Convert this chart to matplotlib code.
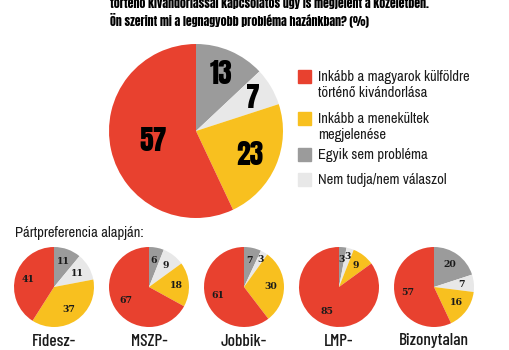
import matplotlib.pyplot as plt
import numpy as np

# Válaszok sorrendje (12 órától az óramutató járásával): egyik sem, nem tudja, menekültek, kivándorlás
answers = ['Egyik sem probléma', 'Nem tudja/nem válaszol',
           'Inkább a menekültek\nmegjelenése',
           'Inkább a magyarok külföldre\ntörténő kivándorlása']
colors = ['#9b9b9b', '#e8e8e8', '#f8c01f', '#e8412f']

total_values = [13, 7, 23, 57]

parties = ['Fidesz-', 'MSZP-', 'Jobbik-', 'LMP-', 'Bizonytalan']
party_values = [
    [11, 11, 37, 41],
    [6, 9, 18, 67],
    [7, 3, 30, 61],
    [3, 3, 9, 85],
    [20, 7, 16, 57],
]

HEAVY = ['Anton', 'DejaVu Sans']
NARROW = ['Archivo Narrow', 'DejaVu Sans']
BOLDNARROW = ['Barlow Condensed', 'DejaVu Sans']
W, H = 510, 350

fig = plt.figure(figsize=(W / 100, H / 100), dpi=100)
fig.patch.set_facecolor('white')


def px_axes(cx, cy, r):
    # tengely képpontos középponttal és sugárral
    return fig.add_axes([(cx - r) / W, (H - cy - r) / H, 2 * r / W, 2 * r / H])


def draw_pie(ax, values, dist, shrink=0.0, **txt):
    wedges, _ = ax.pie(values, colors=colors, startangle=90, counterclock=False,
                       wedgeprops=dict(linewidth=0))
    for w, v in zip(wedges, values):
        ang = np.deg2rad((w.theta1 + w.theta2) / 2)
        # nagy szeletnél beljebb, egymás melletti keskenyeknél kijjebb
        d = dist - shrink * v
        if v < 5 and w is not wedges[0]:
            d += 0.12
        ax.text(d * np.cos(ang), d * np.sin(ang), str(v),
                ha='center', va='center', **txt)
    ax.set_xlim(-1, 1)
    ax.set_ylim(-1, 1)
    ax.set_aspect('equal')
    ax.axis('off')


# cím (a felső sor félig kilóg)
fig.text(110 / W, 1 - 2 / H, 'történő kivándorlással kapcsolatos ügy is megjelent a közéletben.',
         family=HEAVY, fontsize=8.6, va='center', ha='left')
fig.text(110 / W, 1 - 20 / H, 'Ön szerint mi a legnagyobb probléma hazánkban? (%)',
         family=HEAVY, fontsize=8.6, va='center', ha='left')

# fő kördiagram
ax = px_axes(196, 131, 87)
draw_pie(ax, total_values, 0.79, shrink=0.005, family=HEAVY, fontsize=20)

# jelmagyarázat
legend_rows = [(3, 77), (2, 119), (0, 155), (1, 180)]
for idx, y in legend_rows:
    fig.patches.append(plt.Rectangle((298 / W, 1 - (y + 6) / H), 13 / W, 13 / H,
                                     color=colors[idx], transform=fig.transFigure))
    fig.text(318 / W, 1 - (y - 7) / H, answers[idx], family=NARROW, fontsize=10.5,
             va='top', ha='left', linespacing=1.2, color='#1a1a1a')

fig.text(15 / W, 1 - 233 / H, 'Pártpreferencia alapján:', family=NARROW,
         fontsize=10.5, va='center', ha='left', color='#1a1a1a')

# pártok szerinti kis kördiagramok
for i, (name, vals) in enumerate(zip(parties, party_values)):
    cx = 54 + i * 95
    a = px_axes(cx, 287, 40)
    draw_pie(a, vals, 0.68, family='DejaVu Serif', fontstretch='condensed',
             weight='bold', fontsize=7.5, color='#1a1a1a')
    fig.text(cx / W, 1 - 341 / H, name, family=BOLDNARROW, weight=500,
             fontsize=12.5, ha='center', va='center', color='#1a1a1a')

fig.savefig('out.png', dpi=100, facecolor='white')
